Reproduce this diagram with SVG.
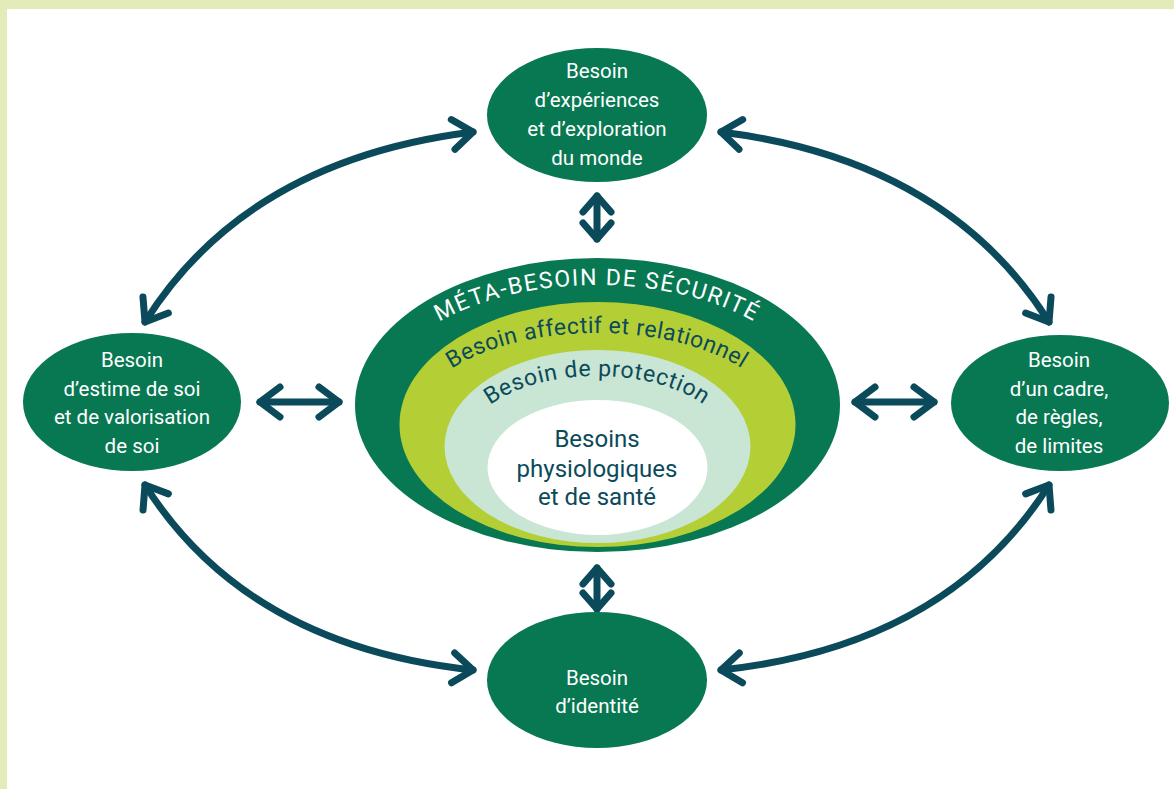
<svg xmlns="http://www.w3.org/2000/svg" width="1174" height="789" viewBox="0 0 1174 789">
<style>
.node{fill:#077852}
.nt{font-family:Roboto,"Liberation Sans",sans-serif;font-size:20.5px;fill:#ffffff;text-anchor:middle}
.ct{font-family:Roboto,"Liberation Sans",sans-serif;font-size:24px;fill:#0b4a5a;text-anchor:middle}
.arc{font-family:Roboto,"Liberation Sans",sans-serif;font-size:23px;text-anchor:middle}
.conn{fill:none;stroke:#0b4a5a;stroke-width:7;stroke-linecap:round;stroke-linejoin:round;marker-start:url(#chev);marker-end:url(#chev)}
.conn-s{fill:none;stroke:#0b4a5a;stroke-width:7;stroke-linecap:round;stroke-linejoin:round;marker-start:url(#chev-s);marker-end:url(#chev-s)}
</style>
<defs>
<marker id="chev" markerUnits="userSpaceOnUse" markerWidth="60" markerHeight="60" viewBox="-30 -30 60 60" refX="0" refY="0" orient="auto-start-reverse" overflow="visible">
<path d="M-20,-15 L0,0 L-20,15" fill="none" stroke="#0b4a5a" stroke-width="7" stroke-linecap="round" stroke-linejoin="round"/>
</marker>
<marker id="chev-s" markerUnits="userSpaceOnUse" markerWidth="60" markerHeight="60" viewBox="-30 -30 60 60" refX="0" refY="0" orient="auto-start-reverse" overflow="visible">
<path d="M-16,-14 L0,0 L-16,14" fill="none" stroke="#0b4a5a" stroke-width="7" stroke-linecap="round" stroke-linejoin="round"/>
</marker>
<path id="p1" d="M375,409 A222,124 0 0 1 819,409"/>
<path id="p2" d="M413,425 A184,92 0 0 1 781,425"/>
<path id="p3" d="M465,446 A132,70 0 0 1 729,446"/>
</defs>
<rect x="0" y="0" width="1174" height="789" fill="#ffffff"/>
<rect x="0" y="0" width="1174" height="9" fill="#e3ebb9"/>
<rect x="0" y="0" width="7" height="789" fill="#e3ebb9"/>

<g id="connectors">
<path class="conn" d="M145,322 Q247,160 473,132"/>
<path class="conn" d="M1049,322 Q947,160 721,132"/>
<path class="conn" d="M145,485 Q247,646 473,670"/>
<path class="conn" d="M1049,485 Q947,646 721,670"/>
<path class="conn-s" d="M597,196 L597,239"/>
<path class="conn-s" d="M597,568 L597,609"/>
<path class="conn" d="M260,402 L339,402"/>
<path class="conn" d="M855,402 L934,402"/>
</g>

<g id="center">
<ellipse cx="597.5" cy="405" rx="242.5" ry="147" fill="#077852"/>
<ellipse cx="597.5" cy="424.5" rx="198" ry="122.5" fill="#b4cf36"/>
<ellipse cx="597.5" cy="446.5" rx="153" ry="96.5" fill="#c9e5d3"/>
<ellipse cx="597.5" cy="467.5" rx="110" ry="67.5" fill="#ffffff"/>
<text class="arc" fill="#ffffff" font-size="22" letter-spacing="1.6"><textPath href="#p1" startOffset="50%">MÉTA-BESOIN DE SÉCURITÉ</textPath></text>
<text class="arc" fill="#0b4a5a" letter-spacing="0.5"><textPath href="#p2" startOffset="50%">Besoin affectif et relationnel</textPath></text>
<text class="arc" fill="#0b4a5a" letter-spacing="0.7"><textPath href="#p3" startOffset="50%">Besoin de protection</textPath></text>
<text class="ct" x="597" y="447">Besoins</text>
<text class="ct" x="597" y="477">physiologiques</text>
<text class="ct" x="597" y="505">et de santé</text>
</g>

<g id="node-top">
<ellipse class="node" cx="597" cy="115" rx="110" ry="67"/>
<text class="nt" x="597" y="78">Besoin</text>
<text class="nt" x="597" y="107">d’expériences</text>
<text class="nt" x="597" y="136">et d’exploration</text>
<text class="nt" x="597" y="165">du monde</text>
</g>

<g id="node-left">
<ellipse class="node" cx="132" cy="402" rx="109" ry="69"/>
<text class="nt" x="132" y="367">Besoin</text>
<text class="nt" x="132" y="396">d’estime de soi</text>
<text class="nt" x="132" y="424">et de valorisation</text>
<text class="nt" x="132" y="453">de soi</text>
</g>

<g id="node-right">
<ellipse class="node" cx="1060" cy="403" rx="109" ry="68"/>
<text class="nt" x="1059" y="367">Besoin</text>
<text class="nt" x="1059" y="396">d’un cadre,</text>
<text class="nt" x="1059" y="424">de règles,</text>
<text class="nt" x="1059" y="453">de limites</text>
</g>

<g id="node-bottom">
<ellipse class="node" cx="597" cy="680" rx="110" ry="68"/>
<text class="nt" x="597" y="685">Besoin</text>
<text class="nt" x="597" y="713">d’identité</text>
</g>
</svg>
